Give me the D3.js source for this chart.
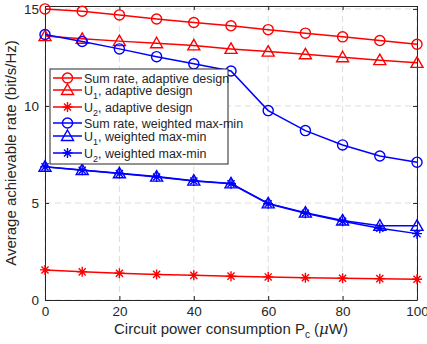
<!DOCTYPE html>
<html lang="en">
<head>
<meta charset="UTF-8">
<title>rate-vs-circuit-power</title>
<script src="https://cdn.jsdelivr.net/npm/d3@7"></script>
<style>
  body { margin: 0; background: #fff; }
  text { font-family: "Liberation Sans", Arial, sans-serif; fill: #262626; }
</style>
</head>
<body>
<script>
const pc = [0, 10, 20, 30, 40, 50, 60, 70, 80, 90, 100];
const sumAdaptive = [15.0, 14.88, 14.69, 14.48, 14.3, 14.13, 13.93, 13.75, 13.56, 13.37, 13.18];
const u1Adaptive = [13.6, 13.46, 13.34, 13.23, 13.12, 12.94, 12.8, 12.66, 12.51, 12.36, 12.22];
const u2Adaptive = [1.55, 1.45, 1.38, 1.32, 1.27, 1.23, 1.19, 1.15, 1.12, 1.1, 1.07];
const sumWeighted = [13.68, 13.32, 12.94, 12.54, 12.17, 11.8, 9.76, 8.73, 7.99, 7.42, 7.1];
const u1Weighted = [6.87, 6.7, 6.53, 6.36, 6.15, 6.01, 4.98, 4.5, 4.1, 3.83, 3.82];
const u2Weighted = [6.86, 6.69, 6.52, 6.34, 6.13, 5.99, 4.96, 4.47, 4.06, 3.7, 3.42];
const xTicks = [0, 20, 40, 60, 80, 100];
const yTicks = [0, 5, 10, 15];

const series = [
  {values: sumAdaptive, color: '#ff0000', marker: 'circle', label: ['Sum rate, adaptive design']},
  {values: u1Adaptive, color: '#ff0000', marker: 'triangle', label: ['U', '1', ', adaptive design']},
  {values: u2Adaptive, color: '#ff0000', marker: 'star', label: ['U', '2', ', adaptive design']},
  {values: sumWeighted, color: '#0000ff', marker: 'circle', label: ['Sum rate, weighted max-min']},
  {values: u1Weighted, color: '#0000ff', marker: 'triangle', label: ['U', '1', ', weighted max-min']},
  {values: u2Weighted, color: '#0000ff', marker: 'star', label: ['U', '2', ', weighted max-min']}
];

const width = 427, height = 344;
const margin = {top: 6, right: 10, bottom: 44, left: 45};
const iw = width - margin.left - margin.right;
const ih = height - margin.top - margin.bottom;

const svg = d3.select('body').append('svg')
  .attr('width', width)
  .attr('height', height);

const x = d3.scaleLinear().domain([0, 100]).range([0, iw]);
const y = d3.scaleLinear().domain([0, 15.15]).range([ih, 0]);

const g = svg.append('g')
  .attr('transform', 'translate(' + margin.left + ',' + margin.top + ')');

// grid
g.selectAll('line.gx').data(xTicks).enter().append('line')
  .attr('x1', d => x(d)).attr('x2', d => x(d))
  .attr('y1', 0).attr('y2', ih)
  .attr('stroke', '#dcdcdc').attr('stroke-dasharray', '6,4');
g.selectAll('line.gy').data(yTicks).enter().append('line')
  .attr('x1', 0).attr('x2', iw)
  .attr('y1', d => y(d)).attr('y2', d => y(d))
  .attr('stroke', '#dcdcdc').attr('stroke-dasharray', '6,4');

// axes
const xAxis = g.append('g')
  .attr('transform', 'translate(0,' + ih + ')')
  .call(d3.axisBottom(x).tickValues(xTicks).tickSizeInner(-4).tickSizeOuter(0).tickPadding(6));
const xTop = g.append('g')
  .call(d3.axisTop(x).tickValues(xTicks).tickSizeInner(-4).tickSizeOuter(0).tickFormat(''));
const yAxis = g.append('g')
  .call(d3.axisLeft(y).tickValues(yTicks).tickSizeInner(-4).tickSizeOuter(0).tickPadding(6));
const yRight = g.append('g')
  .attr('transform', 'translate(' + iw + ',0)')
  .call(d3.axisRight(y).tickValues(yTicks).tickSizeInner(-4).tickSizeOuter(0).tickFormat(''));

[xAxis, xTop, yAxis, yRight].forEach(function (a) {
  a.selectAll('path').attr('stroke', '#262626');
  a.selectAll('line').attr('stroke', '#262626');
  a.selectAll('text').style('font-size', '13.5px').attr('fill', '#262626');
});

// markers
function markerPath(type) {
  if (type === 'circle') return d3.symbol().type(d3.symbolCircle).size(80)();
  if (type === 'triangle') return 'M0,-6L6,4.5L-6,4.5Z';
  const r = 5, q = r * 0.7071;
  return 'M0,' + (-r) + 'V' + r + 'M' + (-r) + ',0H' + r +
    'M' + (-q) + ',' + (-q) + 'L' + q + ',' + q + 'M' + (-q) + ',' + q + 'L' + q + ',' + (-q);
}

const line = d3.line().x((d, i) => x(pc[i])).y(d => y(d));

series.forEach(function (s) {
  g.append('path')
    .datum(s.values)
    .attr('d', line)
    .attr('fill', 'none')
    .attr('stroke', s.color)
    .attr('stroke-width', 1.5);
  g.selectAll(null).data(s.values).enter().append('path')
    .attr('transform', (d, i) => 'translate(' + x(pc[i]) + ',' + y(d) + ')')
    .attr('d', markerPath(s.marker))
    .attr('fill', 'none')
    .attr('stroke', s.color)
    .attr('stroke-width', 1.4);
});

// legend
const lg = svg.append('g').attr('transform', 'translate(50,69)');
lg.append('rect')
  .attr('width', 178).attr('height', 95)
  .attr('fill', '#fff').attr('stroke', '#262626').attr('stroke-width', 1);
const rowY = [9, 21, 38, 54, 67, 84];
series.forEach(function (s, i) {
  const row = lg.append('g').attr('transform', 'translate(0,' + rowY[i] + ')');
  row.append('line').attr('x1', 3).attr('x2', 32).attr('y1', 0).attr('y2', 0)
    .attr('stroke', s.color).attr('stroke-width', 1.5);
  row.append('path').attr('transform', 'translate(17.5,0)')
    .attr('d', markerPath(s.marker))
    .attr('fill', 'none').attr('stroke', s.color).attr('stroke-width', 1.4);
  const t = row.append('text').attr('x', 34).attr('y', 4.5).style('font-size', '12.5px');
  if (s.label.length === 1) {
    t.text(s.label[0]);
  } else {
    t.append('tspan').text(s.label[0]);
    t.append('tspan').attr('dy', 4).style('font-size', '9px').text(s.label[1]);
    t.append('tspan').attr('dy', -4).text(s.label[2]);
  }
});

// axis titles
const xl = svg.append('text')
  .attr('x', margin.left + iw / 2)
  .attr('y', 334)
  .attr('text-anchor', 'middle')
  .style('font-size', '15px');
xl.append('tspan').text('Circuit power consumption P');
xl.append('tspan').attr('dy', 4).style('font-size', '10px').text('c');
xl.append('tspan').attr('dy', -4).text(' (');
xl.append('tspan').style('font-style', 'italic').style('font-family', 'DejaVu Serif, serif').text('\u03bc');
xl.append('tspan').text('W)');

svg.append('text')
  .attr('transform', 'translate(16,' + (margin.top + ih / 2) + ') rotate(-90)')
  .attr('text-anchor', 'middle')
  .style('font-size', '15px')
  .text('Average achievable rate (bit/s/Hz)');
</script>
</body>
</html>
